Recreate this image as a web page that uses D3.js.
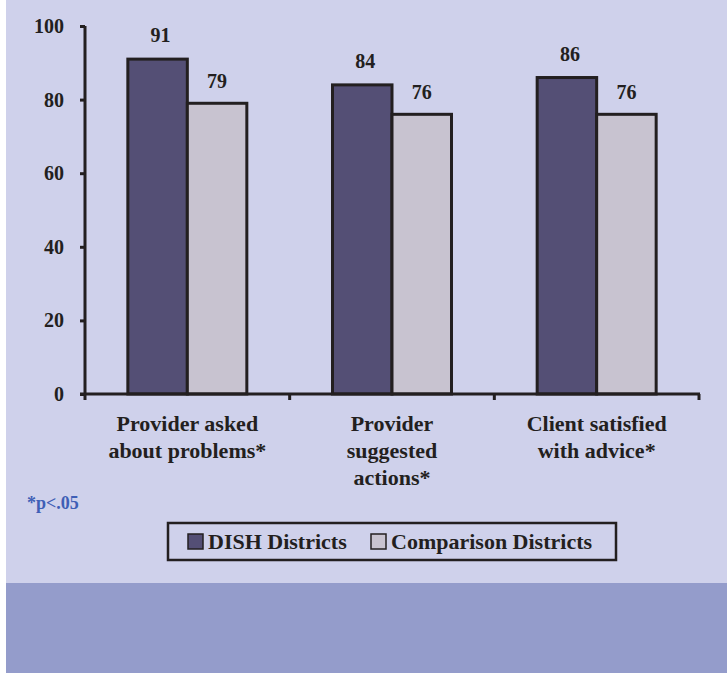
<!DOCTYPE html>
<html><head><meta charset="utf-8">
<script src="https://cdn.jsdelivr.net/npm/d3@7"></script>
<style>html,body{margin:0;padding:0;background:#fff;}svg{display:block;}</style>
</head><body>
<script>
const categories = ["Provider asked about problems*", "Provider suggested actions*", "Client satisfied with advice*"];
const categoryLines = [["Provider asked", "about problems*"], ["Provider", "suggested", "actions*"], ["Client satisfied", "with advice*"]];
const seriesNames = ["DISH Districts", "Comparison Districts"];
const dishValues = [91, 84, 86];
const comparisonValues = [79, 76, 76];
const yTicks = [0, 20, 40, 60, 80, 100];
const footnote = "*p<.05";

const W = 727, H = 673;
const colors = ["#544f75", "#c8c3d0"];
const ink = "#231f20";
const font = "'Liberation Serif','Times New Roman',serif";

const svg = d3.select("body").append("svg").attr("width", W).attr("height", H);
svg.append("rect").attr("x", 6).attr("y", 0).attr("width", W - 6).attr("height", 583).attr("fill", "#cfd1eb");
svg.append("rect").attr("x", 6).attr("y", 583).attr("width", W - 6).attr("height", H - 583).attr("fill", "#949ccb");

const y = d3.scaleLinear().domain([0, 100]).range([394, 26]);
const x0 = d3.scaleBand().domain(categories).range([85, 699]).padding(0);
const x1 = d3.scaleBand().domain(seriesNames).range([0, x0.bandwidth()]).paddingInner(0).paddingOuter(0.72);

const data = categories.map((c, i) => ({cat: c, vals: [dishValues[i], comparisonValues[i]]}));

// y axis
const yAxis = svg.append("g").attr("transform", "translate(85,0)")
  .call(d3.axisLeft(y).tickValues(yTicks).tickSize(5).tickPadding(16));
yAxis.select(".domain").attr("stroke", ink).attr("stroke-width", 3).attr("d", `M0,${y(100)}V${y(0)}`);
yAxis.selectAll(".tick line").attr("stroke", ink).attr("stroke-width", 3);
yAxis.selectAll(".tick text").attr("fill", ink).style("font-family", font).style("font-weight", "bold").style("font-size", "20px");

// bars
const groups = svg.selectAll(".grp").data(data).join("g").attr("transform", d => `translate(${x0(d.cat)},0)`);
groups.selectAll("rect").data(d => d.vals.map((v, j) => ({s: seriesNames[j], v, j}))).join("rect")
  .attr("x", d => x1(d.s)).attr("width", x1.bandwidth())
  .attr("y", d => y(d.v)).attr("height", d => y(0) - y(d.v))
  .attr("fill", d => colors[d.j]).attr("stroke", ink).attr("stroke-width", 3);
groups.selectAll("text.val").data(d => d.vals.map((v, j) => ({s: seriesNames[j], v, j}))).join("text")
  .attr("class", "val")
  .attr("x", d => x1(d.s) + x1.bandwidth() / 2 + (d.j === 0 ? 3 : 0))
  .attr("y", d => y(d.v) - (d.j === 0 ? 17 : 15))
  .attr("text-anchor", "middle").attr("fill", ink)
  .style("font-family", font).style("font-weight", "bold").style("font-size", "20px")
  .text(d => d.v);

// x axis
const xAxis = svg.append("g").attr("transform", `translate(0,${y(0)})`);
xAxis.append("line").attr("x1", 80).attr("x2", 700).attr("y1", 0).attr("y2", 0).attr("stroke", ink).attr("stroke-width", 3);
const bounds = categories.map(c => x0(c)).concat([x0(categories[categories.length - 1]) + x0.bandwidth()]);
xAxis.selectAll("line.t").data(bounds).join("line").attr("class", "t")
  .attr("x1", d => d).attr("x2", d => d).attr("y1", 0).attr("y2", 6).attr("stroke", ink).attr("stroke-width", 3);

// category labels
categories.forEach((c, i) => {
  const t = svg.append("text").attr("text-anchor", "middle").attr("fill", ink)
    .style("font-family", font).style("font-weight", "bold").style("font-size", "22px");
  categoryLines[i].forEach((ln, k) => {
    t.append("tspan").attr("x", x0(c) + x0.bandwidth() / 2).attr("y", 431 + k * 27).text(ln);
  });
});

// footnote
svg.append("text").attr("x", 27).attr("y", 509).attr("fill", "#3f5fb6")
  .style("font-family", font).style("font-weight", "bold").style("font-size", "18px").text(footnote);

// legend
const lg = svg.append("g");
lg.append("rect").attr("x", 168).attr("y", 523).attr("width", 448).attr("height", 37)
  .attr("fill", "none").attr("stroke", ink).attr("stroke-width", 2.5);
const legX = [188, 371];
seriesNames.forEach((s, j) => {
  lg.append("rect").attr("x", legX[j]).attr("y", 534).attr("width", 15).attr("height", 15)
    .attr("fill", colors[j]).attr("stroke", ink).attr("stroke-width", 1.5);
  lg.append("text").attr("x", legX[j] + 20).attr("y", 549).attr("fill", ink)
    .style("font-family", font).style("font-weight", "bold").style("font-size", "22px").text(s);
});
</script>
</body></html>
